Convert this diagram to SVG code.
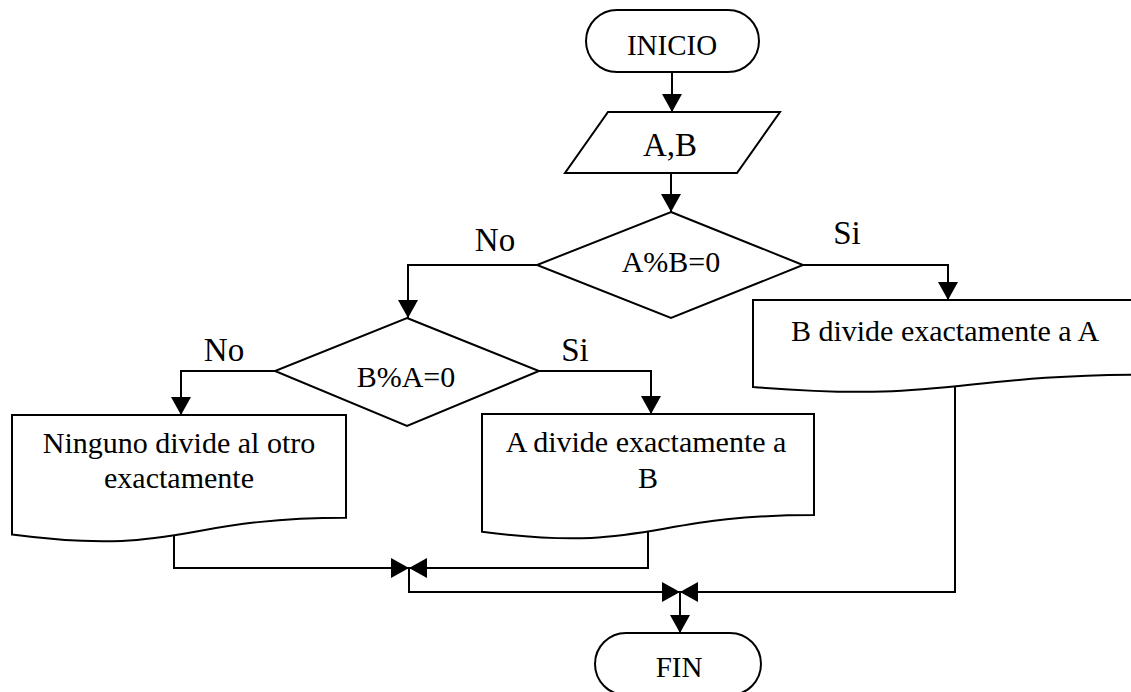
<svg xmlns="http://www.w3.org/2000/svg" width="1131" height="692" viewBox="0 0 1131 692">
  <style>
    .shape { fill: #ffffff; stroke: #000000; stroke-width: 2; }
    .link { fill: none; stroke: #000000; stroke-width: 2; }
    .txt { font-family: "Liberation Serif", "Times New Roman", serif; fill: #000000; text-anchor: middle; }
    .t29 { font-size: 29px; }
    .t30 { font-size: 30px; }
    .t33 { font-size: 33px; }
  </style>
  <defs>
    <marker id="arrow" viewBox="0 0 18 20" refX="18" refY="10" markerWidth="18" markerHeight="20" orient="auto" markerUnits="userSpaceOnUse">
      <path d="M0,0 L18,10 L0,20 Z" fill="#000000"/>
    </marker>
  </defs>

  <rect width="1131" height="692" fill="#ffffff"/>

  <!-- connectors -->
  <g id="connectors">
    <path class="link" d="M672,72 V112" marker-end="url(#arrow)"/>
    <path class="link" d="M671,173 V212" marker-end="url(#arrow)"/>
    <path class="link" d="M537,265 H408 V318" marker-end="url(#arrow)"/>
    <path class="link" d="M803,265 H948 V300" marker-end="url(#arrow)"/>
    <path class="link" d="M275,371 H181 V415" marker-end="url(#arrow)"/>
    <path class="link" d="M539,371 H651 V414" marker-end="url(#arrow)"/>
    <path class="link" d="M174,530 V568 H409" marker-end="url(#arrow)"/>
    <path class="link" d="M648,525 V568 H409" marker-end="url(#arrow)"/>
    <path class="link" d="M409,568 V592 H680" marker-end="url(#arrow)"/>
    <path class="link" d="M955,380 V592 H680" marker-end="url(#arrow)"/>
    <path class="link" d="M680,592 V633" marker-end="url(#arrow)"/>
  </g>

  <!-- labels on branches -->
  <g id="branch-labels">
    <text class="txt t33" x="495" y="251">No</text>
    <text class="txt t33" x="847" y="244">Si</text>
    <text class="txt t33" x="224" y="361">No</text>
    <text class="txt t33" x="575" y="361">Si</text>
  </g>

  <g id="inicio">
    <rect class="shape" x="586" y="10" width="173" height="62" rx="31" ry="31"/>
    <text class="txt t29" x="672" y="55">INICIO</text>
  </g>

  <g id="entrada">
    <polygon class="shape" points="608,112 780,112 737,173 565,173"/>
    <text class="txt t33" x="670" y="156">A,B</text>
  </g>

  <g id="decision-ab">
    <polygon class="shape" points="671,212 803,265 671,318 537,265"/>
    <text class="txt t30" x="671" y="272">A%B=0</text>
  </g>

  <g id="decision-ba">
    <polygon class="shape" points="407,318 539,371 407,426 275,371"/>
    <text class="txt t30" x="406" y="387">B%A=0</text>
  </g>

  <g id="salida-b-divide-a">
    <path class="shape" d="M753,300 H1150 V374.6 C951.5,374.6 951.5,403 753,387 Z"/>
    <text class="txt t30" x="945" y="341">B divide exactamente a A</text>
  </g>

  <g id="salida-ninguno">
    <path class="shape" d="M12,415 H346 V517.7 C179,517.7 179,556.7 12,534.6 Z"/>
    <text class="txt t30" x="179" y="453">Ninguno divide al otro</text>
    <text class="txt t30" x="179" y="488">exactamente</text>
  </g>

  <g id="salida-a-divide-b">
    <path class="shape" d="M482,414 H814 V515 C648,515 648,553.5 482,531.7 Z"/>
    <text class="txt t30" x="646" y="452">A divide exactamente a</text>
    <text class="txt t30" x="648" y="488">B</text>
  </g>

  <g id="fin">
    <rect class="shape" x="595" y="633" width="166" height="62" rx="31" ry="31"/>
    <text class="txt t29" x="679" y="677">FIN</text>
  </g>
</svg>
